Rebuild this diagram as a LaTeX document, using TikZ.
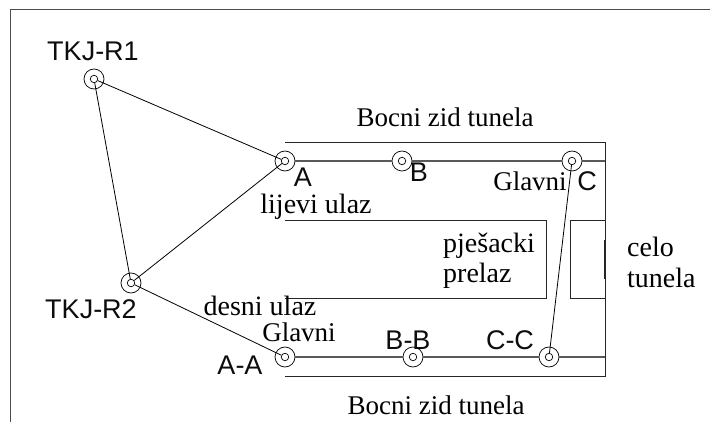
\documentclass[tikz,border=0pt]{standalone}
\usepackage{fontspec}
\setmainfont{Liberation Serif}
\newfontfamily\arialf{Liberation Sans}
\tikzset{
  x=1pt,y=-1pt,
  outer/.style={circle,draw=black,line width=0.7pt,minimum size=20pt,inner sep=0pt},
  inner/.style={circle,draw=black,line width=0.7pt,minimum size=7.5pt,inner sep=0pt},
  conn/.style={draw=black,line width=0.8pt},
  wall/.style={draw=black!85,line width=0.9pt},
  axisln/.style={draw=black!65,line width=1.15pt},
  sanslab/.style={font=\arialf\fontsize{27}{27}\selectfont,inner sep=0pt,text=black!95},
  seriflab/.style={font=\fontsize{28}{28}\selectfont,inner sep=0pt},
  glavnilab/.style={font=\fontsize{27}{27}\selectfont,inner sep=0pt},
  timeslab/.style={font=\fontsize{27}{27}\selectfont,inner sep=0pt},
}
\begin{document}
\begin{tikzpicture}
\useasboundingbox (0,0) rectangle (710,422);
% frame
\coordinate (fa) at (10,422);
\coordinate (fb) at (10,10);
\coordinate (fc) at (710,10);
\draw[draw=black!70,line width=1pt] (fa) -- (fb) -- (fc);
% survey points
\node[outer] (r1o) at (94,79) {};   \node[inner] (r1) at (94,79) {};
\node[outer] (ao) at (285,161) {};  \node[inner] (a) at (285,161) {};
\node[outer] (r2o) at (131,283) {}; \node[inner] (r2) at (131,283) {};
\node[outer] (aao) at (285,357) {}; \node[inner] (aa) at (285,357) {};
\node[outer] (bo) at (402,161) {};  \node[inner] (b) at (402,161) {};
\node[outer] (co) at (572,161) {};  \node[inner] (c) at (572,161) {};
\node[outer] (bbo) at (413,357) {}; \node[inner] (bb) at (413,357) {};
\node[outer] (cco) at (549,357) {}; \node[inner] (cc) at (549,357) {};
% tunnel walls
\coordinate (t1) at (285,142);
\coordinate (t2) at (605,142);
\coordinate (t3) at (605,376);
\coordinate (t4) at (285,376);
\draw[wall] (t1) -- (t2) -- (t3) -- (t4);
\coordinate (e1) at (605,161);
\coordinate (e2) at (605,357);
\draw[axisln] (ao) -- (bo) (bo) -- (co) (co) -- (e1);
\draw[axisln] (aao) -- (bbo) (bbo) -- (cco) (cco) -- (e2);
% pedestrian passage
\coordinate (p1) at (285,220);
\coordinate (p2) at (546,220);
\coordinate (p3) at (546,298);
\coordinate (p4) at (285,298);
\draw[wall] (p1) -- (p2) -- (p3) -- (p4);
\coordinate (q1) at (605,220);
\coordinate (q2) at (570,220);
\coordinate (q3) at (570,298);
\coordinate (q4) at (605,298);
\draw[wall] (q1) -- (q2) -- (q3) -- (q4);
\coordinate (h1) at (605,240);
\coordinate (h2) at (605,279);
\draw[draw=black!85,line width=1.6pt] (h1) -- (h2);
% connectors
\draw[conn] (r1) -- (a);
\draw[conn] (r1) -- (r2);
\draw[conn] (r2) -- (a);
\draw[conn] (r2) -- (aa);
\draw[conn] (c) -- (cc);
% labels
\node[sanslab] (l1) at (93,51) {TKJ-R1};
\node[sanslab] (l2) at (91,309) {TKJ-R2};
\node[sanslab] (l3) at (303,177) {A};
\node[sanslab] (l4) at (419,172) {B};
\node[sanslab] (l5) at (587,181) {C};
\node[sanslab] (l6) at (240,365) {A-A};
\node[sanslab] (l7) at (408,340) {B-B};
\node[sanslab] (l8) at (510,340) {C-C};
\node[timeslab] (l9) at (445,117) {Bocni zid tunela};
\node[timeslab] (l10) at (436,405) {Bocni zid tunela};
\node[seriflab] (l11) at (316,207) {lijevi ulaz};
\node[seriflab] (l12) at (260,306) {desni ulaz};
\node[glavnilab] (l13) at (299,332) {Glavni};
\node[glavnilab] (l14) at (530,181) {Glavni};
\node[seriflab,anchor=west] (l15) at (443,246) {pješacki};
\node[seriflab,anchor=west] (l16) at (443,276) {prelaz};
\node[seriflab,anchor=west] (l17) at (627,247) {celo};
\node[seriflab,anchor=west] (l18) at (627,278) {tunela};
\end{tikzpicture}
\end{document}
